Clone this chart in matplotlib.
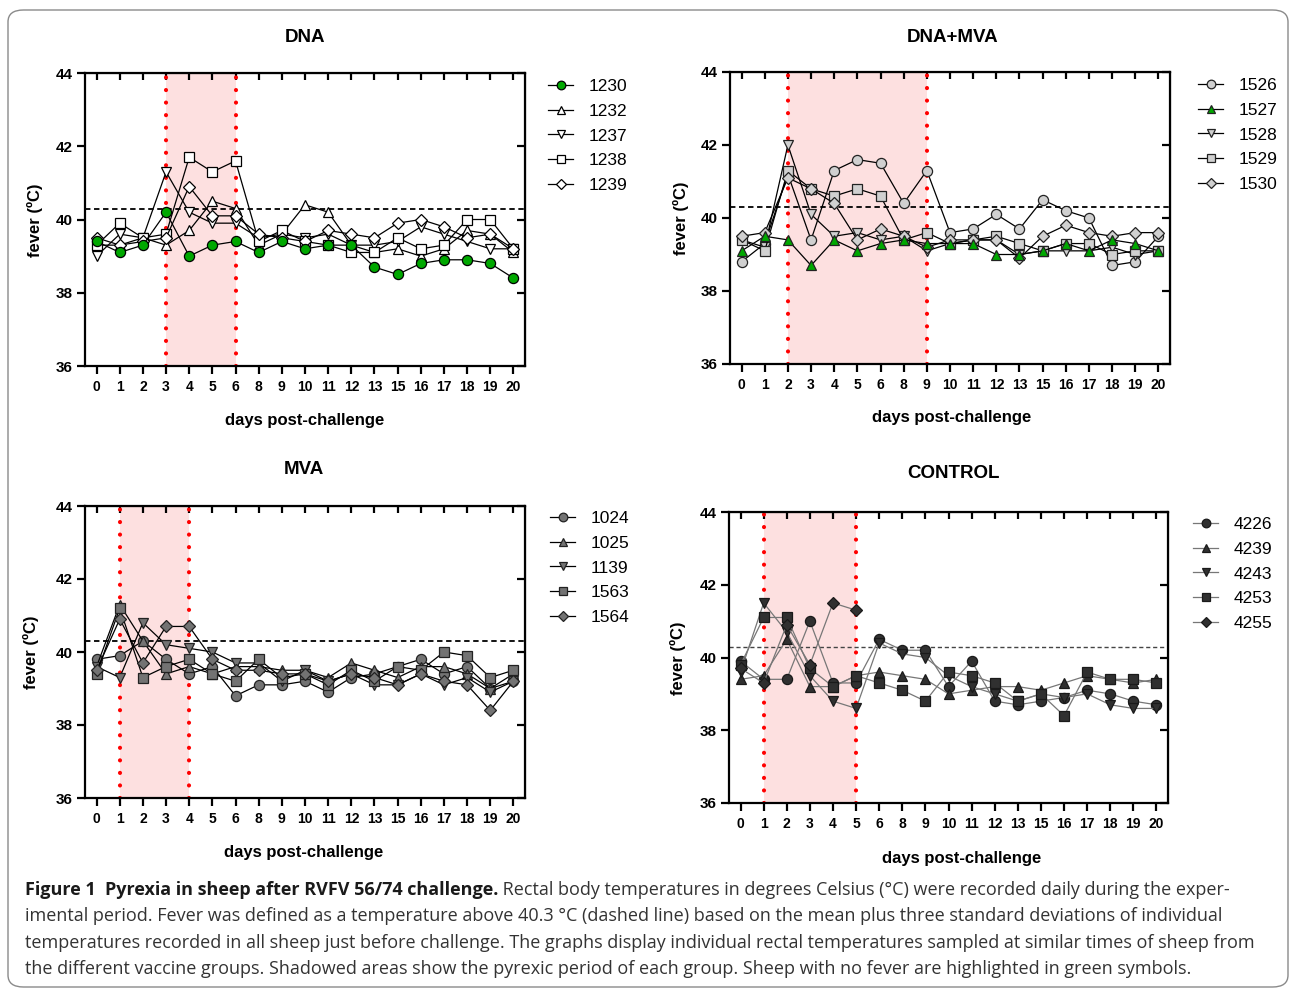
import numpy as np
import matplotlib
matplotlib.use("Agg")
import matplotlib.pyplot as plt
from matplotlib.patches import FancyBboxPatch

# ---------------- data ----------------
days = ['0', '1', '2', '3', '4', '5', '6', '8', '9', '10', '11', '12', '13',
        '15', '16', '17', '18', '19', '20']
fever_threshold = 40.3

dna_ids = ['1230', '1232', '1237', '1238', '1239']
dna_1230 = [39.4, 39.1, 39.3, 40.2, 39.0, 39.3, 39.4, 39.1, 39.4, 39.2, 39.3, 39.3, 38.7, 38.5, 38.8, 38.9, 38.9, 38.8, 38.4]
dna_1232 = [39.3, 39.3, 39.5, 39.3, 39.7, 40.5, 40.3, 39.3, 39.6, 40.4, 40.2, 39.3, 39.1, 39.2, 39.0, 39.2, 39.7, 39.6, 39.1]
dna_1237 = [39.0, 39.6, 39.5, 41.3, 40.2, 39.9, 39.9, 39.5, 39.6, 39.5, 39.6, 39.3, 39.3, 39.4, 39.8, 39.6, 39.4, 39.2, 39.2]
dna_1238 = [39.3, 39.9, 39.5, 39.6, 41.7, 41.3, 41.6, 39.4, 39.7, 39.4, 39.3, 39.1, 39.1, 39.5, 39.2, 39.3, 40.0, 40.0, 39.2]
dna_1239 = [39.5, 39.3, 39.4, 39.5, 40.9, 40.1, 40.1, 39.6, 39.5, 39.4, 39.7, 39.6, 39.5, 39.9, 40.0, 39.8, 39.5, 39.6, 39.2]

dm_ids = ['1526', '1527', '1528', '1529', '1530']
dm_1526 = [38.8, 39.3, 41.2, 39.4, 41.3, 41.6, 41.5, 40.4, 41.3, 39.6, 39.7, 40.1, 39.7, 40.5, 40.2, 40.0, 38.7, 38.8, 39.5]
dm_1527 = [39.1, 39.5, 39.4, 38.7, 39.4, 39.1, 39.3, 39.4, 39.3, 39.3, 39.3, 39.0, 39.0, 39.1, 39.3, 39.1, 39.4, 39.3, 39.1]
dm_1528 = [39.4, 39.2, 42.0, 40.1, 39.5, 39.6, 39.4, 39.5, 39.1, 39.3, 39.4, 39.4, 39.0, 39.1, 39.1, 39.1, 39.2, 39.0, 39.1]
dm_1529 = [39.4, 39.1, 41.3, 40.8, 40.6, 40.8, 40.6, 39.4, 39.6, 39.3, 39.4, 39.5, 39.3, 39.1, 39.3, 39.3, 39.0, 39.1, 39.1]
dm_1530 = [39.5, 39.6, 41.1, 40.8, 40.4, 39.4, 39.7, 39.5, 39.2, 39.4, 39.4, 39.4, 38.9, 39.5, 39.8, 39.6, 39.5, 39.6, 39.6]

mva_ids = ['1024', '1025', '1139', '1563', '1564']
mva_1024 = [39.8, 39.9, 40.3, 39.8, 39.4, 39.6, 38.8, 39.1, 39.1, 39.2, 38.9, 39.3, 39.4, 39.6, 39.8, 39.4, 39.6, 39.0, 39.2]
mva_1025 = [39.6, 41.3, 40.3, 39.4, 39.6, 39.4, 39.6, 39.6, 39.5, 39.5, 39.3, 39.7, 39.5, 39.3, 39.6, 39.6, 39.4, 39.0, 39.4]
mva_1139 = [39.6, 39.3, 40.8, 40.2, 40.1, 40.0, 39.7, 39.7, 39.2, 39.5, 39.2, 39.4, 39.1, 39.1, 39.4, 39.1, 39.3, 38.9, 39.2]
mva_1563 = [39.4, 41.2, 39.3, 39.6, 39.8, 39.4, 39.2, 39.8, 39.3, 39.4, 39.1, 39.5, 39.2, 39.6, 39.5, 40.0, 39.9, 39.3, 39.5]
mva_1564 = [39.5, 40.9, 39.7, 40.7, 40.7, 39.8, 39.5, 39.5, 39.4, 39.4, 39.2, 39.4, 39.3, 39.1, 39.4, 39.2, 39.1, 38.4, 39.2]

ctl_ids = ['4226', '4239', '4243', '4253', '4255']
ctl_4226 = [39.9, 39.4, 39.4, 41.0, 39.3, 39.3, 40.5, 40.2, 40.2, 39.2, 39.9, 38.8, 38.7, 38.8, 38.9, 39.1, 39.0, 38.8, 38.7]
ctl_4239 = [39.4, 39.5, 40.5, 39.2, 39.2, 39.5, 39.6, 39.5, 39.4, 39.0, 39.1, 39.2, 39.2, 39.1, 39.3, 39.5, 39.4, 39.3, 39.4]
ctl_4243 = [39.6, 41.5, 40.7, 39.5, 38.8, 38.6, 40.4, 40.1, 40.0, 39.5, 39.2, 39.0, 38.8, 39.0, 38.9, 39.0, 38.7, 38.6, 38.6]
ctl_4253 = [39.8, 41.1, 41.1, 39.7, 39.2, 39.5, 39.3, 39.1, 38.8, 39.6, 39.5, 39.3, 38.8, 39.0, 38.4, 39.6, 39.4, 39.4, 39.3]
ctl_4255 = [39.7, 39.3, 40.9, 39.8, 41.5, 41.3] + [None] * 13

# pyrexic period (first and last day of shading) per group
dna_period = ('3', '6')
dm_period = ('2', '9')
mva_period = ('1', '4')
ctl_period = ('1', '5')

# ---------------- styling ----------------
W, H = 1290, 989
FONT = ['Liberation Sans', 'DejaVu Sans']
plt.rcParams['font.family'] = FONT
fig = plt.figure(figsize=(W / 100, H / 100), dpi=100)

markers = ['o', '^', 'v', 's', 'D']
msizes = [7.3, 7.5, 7.5, 7.3, 6]
GREEN = '#00a800'
PINK = '#fde0e0'


def px_rect(l, t, r, b):
    return [l / W, 1 - b / H, (r - l) / W, (b - t) / H]


def make_panel(rect, title, title_xy, ylab_xy, xlab_xy, series, ids, faces,
               edge, linecol, period, leg_xy, dash_col='black', dash_lw=1.3,
               green_idx=None):
    ax = fig.add_axes(px_rect(*rect))
    x = np.arange(len(days))
    i0, i1 = days.index(period[0]), days.index(period[1])
    ax.axvspan(i0, i1, color=PINK, zorder=0, lw=0)
    for xv in (i0, i1):
        ax.axvline(xv, color='#ff0000', lw=3.0, linestyle=(0, (0.01, 3.0)),
                   dash_capstyle='round', zorder=1)
    ax.axhline(fever_threshold, color=dash_col, lw=dash_lw,
               linestyle=(0, (3, 2)), zorder=1)
    for k, (vals, lab) in enumerate(zip(series, ids)):
        v = np.array([np.nan if a is None else a for a in vals], dtype=float)
        z = 5 if k == green_idx else 3
        ax.plot(x, v, color=linecol, lw=0.9, marker=markers[k],
                ms=msizes[k], mfc=faces[k], mec=edge, mew=0.9,
                label=lab, zorder=z)
    ax.set_xlim(-0.5, len(days) - 0.5)
    ax.set_ylim(36, 44)
    ax.set_yticks([36, 38, 40, 42, 44])
    ax.set_xticks(x)
    ax.set_xticklabels(days)
    for s in ax.spines.values():
        s.set_linewidth(1.6)
    ax.tick_params(axis='y', direction='out', length=6, width=1.6,
                   labelsize=11, pad=3)
    ax.tick_params(axis='x', direction='out', length=6, width=1.6,
                   labelsize=10, pad=4)
    for lbl in ax.get_xticklabels() + ax.get_yticklabels():
        lbl.set_fontweight('bold')
    sx = ax.secondary_xaxis('top')
    sx.set_xticks(x)
    sx.tick_params(direction='in', length=5, width=1.6, labeltop=False)
    sy = ax.secondary_yaxis('right')
    sy.set_yticks([36, 38, 40, 42, 44])
    sy.tick_params(direction='in', length=6, width=1.6, labelright=False)
    fig.text(title_xy[0] / W, 1 - title_xy[1] / H, title, ha='center',
             va='center', fontsize=13.5, fontweight='bold')
    fig.text(ylab_xy[0] / W, 1 - ylab_xy[1] / H, 'fever (ºC)', ha='center',
             va='center', rotation=90, fontsize=12, fontweight='bold')
    fig.text(xlab_xy[0] / W, 1 - xlab_xy[1] / H, 'days post-challenge',
             ha='center', va='center', fontsize=12, fontweight='bold')
    ax.legend(loc='upper left', bbox_to_anchor=(leg_xy[0] / W, 1 - leg_xy[1] / H),
              bbox_transform=fig.transFigure, frameon=False, fontsize=12.5,
              handlelength=1.45, handletextpad=0.9, labelspacing=0.55,
              borderpad=0, borderaxespad=0, markerscale=0.85)
    return ax


make_panel((85, 73, 525, 366), 'DNA', (305, 37), (35, 220), (305, 420),
           [dna_1230, dna_1232, dna_1237, dna_1238, dna_1239], dna_ids,
           [GREEN] + ['white'] * 4, 'black', 'black', dna_period, (548, 79),
           green_idx=0)

make_panel((730, 72, 1170, 364), 'DNA+MVA', (953, 37), (681, 218), (952, 418),
           [dm_1526, dm_1527, dm_1528, dm_1529, dm_1530], dm_ids,
           ['#d0d0d0', GREEN, '#d0d0d0', '#d0d0d0', '#d0d0d0'], '#222222',
           'black', dm_period, (1198, 78), green_idx=1)

make_panel((85, 506, 525, 798), 'MVA', (304, 469), (31, 652), (304, 852),
           [mva_1024, mva_1025, mva_1139, mva_1563, mva_1564], mva_ids,
           ['#737373'] * 5, '#222222', 'black', mva_period, (550, 511))

make_panel((729, 512, 1168, 803), 'CONTROL', (953, 474), (678, 658), (962, 858),
           [ctl_4226, ctl_4239, ctl_4243, ctl_4253, ctl_4255], ctl_ids,
           ['#303030'] * 5, '#1a1a1a', '#777777', ctl_period, (1193, 517),
           dash_col='#444444', dash_lw=1.0)

# ---------------- caption ----------------
box = FancyBboxPatch((8 / W, 1 - 987 / H), 1280 / W, 977 / H,
                     boxstyle='round,pad=0,rounding_size=0.012',
                     transform=fig.transFigure, fill=False,
                     edgecolor='#8a8a8a', lw=1.0, zorder=0)
fig.patches.append(box)

CAP_FONT = ['Open Sans', 'DejaVu Sans']
cap_bold = 'Figure 1  Pyrexia in sheep after RVFV 56/74 challenge.'
cap_lines = [
    ' Rectal body temperatures in degrees Celsius (°C) were recorded daily during the exper-',
    'imental period. Fever was defined as a temperature above 40.3 °C (dashed line) based on the mean plus three standard deviations of individual',
    'temperatures recorded in all sheep just before challenge. The graphs display individual rectal temperatures sampled at similar times of sheep from',
    'the different vaccine groups. Shadowed areas show the pyrexic period of each group. Sheep with no fever are highlighted in green symbols.',
]
cap_y = [890, 916, 943, 969]
renderer = fig.canvas.get_renderer()
probe = fig.text(0, 0, cap_lines[2], fontsize=10, family=CAP_FONT)
w10 = probe.get_window_extent(renderer).width
probe.remove()
fs = 10 * (1262 - 25) / w10

tb = fig.text(25 / W, 1 - cap_y[0] / H, cap_bold, fontsize=fs, family=CAP_FONT,
              fontweight='bold', va='center', ha='left', color='#1a1a1a')
bw = tb.get_window_extent(renderer).width
fig.text((25 + bw) / W, 1 - cap_y[0] / H, cap_lines[0], fontsize=fs,
         family=CAP_FONT, va='center', ha='left', color='#333333')
for line, yy in zip(cap_lines[1:], cap_y[1:]):
    fig.text(25 / W, 1 - yy / H, line, fontsize=fs, family=CAP_FONT,
             va='center', ha='left', color='#333333')

fig.savefig('out.png', dpi=100)
